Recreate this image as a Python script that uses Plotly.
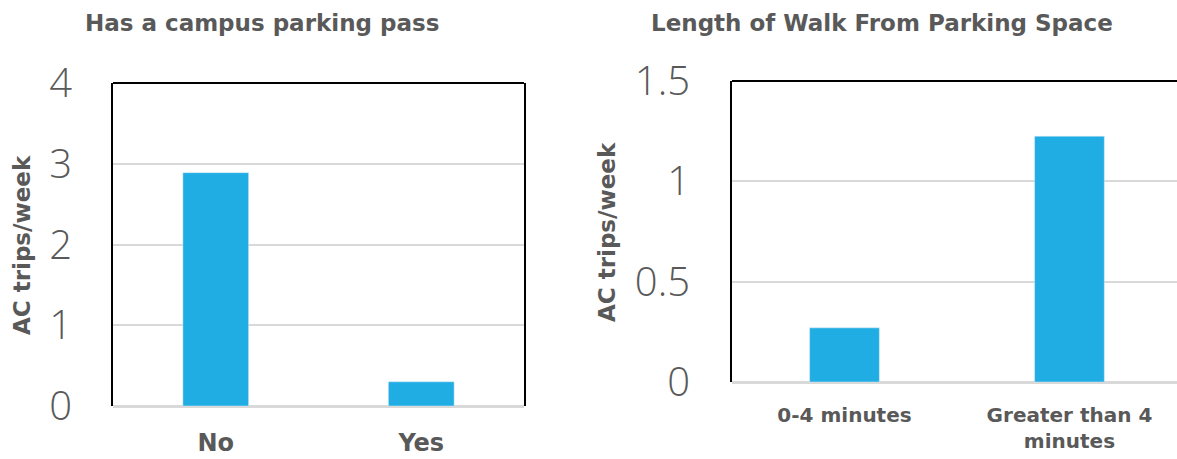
import plotly.graph_objects as go

# Average AC trips per week by parking situation
pass_categories = ["No", "Yes"]
pass_trips = [2.89, 0.30]

walk_categories = ["0-4 minutes", "Greater than 4<br>minutes"]
walk_trips = [0.27, 1.225]

left_ticks = [0, 1, 2, 3, 4]
right_ticks = [0, 0.5, 1, 1.5]
right_ticktext = ["0", "0.5", "1", "1.5"]

BAR = "#1FADE4"
GREY = "#595959"
GRID = "#D9D9D9"
W, H = 1177, 459

fig = go.Figure()
fig.add_trace(go.Bar(x=pass_categories, y=pass_trips, marker_color=BAR,
                     width=0.32, xaxis="x", yaxis="y", showlegend=False))
fig.add_trace(go.Bar(x=walk_categories, y=walk_trips, marker_color=BAR,
                     width=0.31, xaxis="x2", yaxis="y2", showlegend=False))

tick_font = dict(family="Open Sans", size=40, color=GREY, weight=300)
cat_font_left = dict(family="DejaVu Sans", size=24, color=GREY, weight="bold")
cat_font_right = dict(family="DejaVu Sans", size=20, color=GREY, weight="bold")

fig.update_layout(
    width=W, height=H,
    margin=dict(l=0, r=0, t=0, b=0, autoexpand=False),
    paper_bgcolor="white", plot_bgcolor="white",
    xaxis=dict(domain=[113 / W, 524 / W], range=[-0.5, 1.5], showline=False,
               showgrid=False, zeroline=False, ticks="", tickfont=cat_font_left,
               ticklabelstandoff=20, automargin=False),
    yaxis=dict(domain=[(H - 406) / H, (H - 83) / H], range=[0, 4],
               tickvals=left_ticks, showgrid=True, gridcolor=GRID, gridwidth=1.5,
               zeroline=True, zerolinecolor=GRID, zerolinewidth=2.5,
               showline=True, linecolor="black", linewidth=2, mirror=True,
               ticks="", tickfont=tick_font, ticklabelstandoff=31,
               automargin=False),
    xaxis2=dict(domain=[732 / W, 1.0], range=[-0.5, 1.478], anchor="y2",
                showline=False, showgrid=False, zeroline=False, ticks="",
                tickfont=cat_font_right, ticklabelstandoff=19, automargin=False),
    yaxis2=dict(domain=[(H - 382) / H, (H - 81) / H], range=[0, 1.5], anchor="x2",
                tickvals=right_ticks, ticktext=right_ticktext,
                showgrid=True, gridcolor=GRID, gridwidth=1.5,
                zeroline=True, zerolinecolor=GRID, zerolinewidth=2.5,
                showline=True, linecolor="black", linewidth=2, mirror=False,
                ticks="", tickfont=tick_font, ticklabelstandoff=32,
                automargin=False),
)

# top borders of both plot frames
for xr, yr in (("x domain", "y domain"), ("x2 domain", "y2 domain")):
    fig.add_shape(type="line", xref=xr, yref=yr, x0=0, x1=1, y0=1, y1=1,
                  line=dict(color="black", width=2))

title_font = dict(family="DejaVu Sans", size=23, color=GREY, weight="bold")
labels = [
    ("Has a campus parking pass", 262, 23, 0),
    ("Length of Walk From Parking Space", 882, 23, 0),
    ("AC trips/week", 22, 245, -90),
    ("AC trips/week", 607, 232, -90),
]
for text, px, py, angle in labels:
    fig.add_annotation(text=text, x=px / W, y=1 - py / H, textangle=angle,
                       xref="paper", yref="paper", xanchor="center",
                       yanchor="middle", showarrow=False, font=title_font)

fig.write_html("out.html")
